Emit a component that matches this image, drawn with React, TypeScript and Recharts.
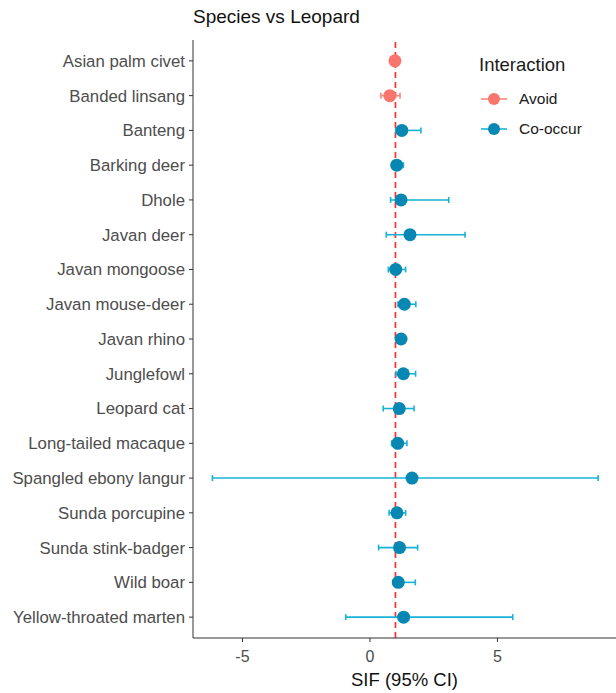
import React from 'react';
import { ScatterChart, Scatter, XAxis, YAxis, ErrorBar, ReferenceLine, Legend } from 'recharts';

const species = [
  'Asian palm civet',
  'Banded linsang',
  'Banteng',
  'Barking deer',
  'Dhole',
  'Javan deer',
  'Javan mongoose',
  'Javan mouse-deer',
  'Javan rhino',
  'Junglefowl',
  'Leopard cat',
  'Long-tailed macaque',
  'Spangled ebony langur',
  'Sunda porcupine',
  'Sunda stink-badger',
  'Wild boar',
  'Yellow-throated marten',
];
const sif = [0.98, 0.78, 1.25, 1.05, 1.22, 1.57, 1.01, 1.35, 1.22, 1.31, 1.15, 1.09, 1.65, 1.06, 1.16, 1.11, 1.32];
const lower = [0.92, 0.43, 1.02, 0.95, 0.81, 0.64, 0.72, 1.1, 1.1, 1.02, 0.52, 0.85, -6.18, 0.75, 0.34, 0.92, -0.95];
const upper = [1.04, 1.18, 2.0, 1.31, 3.09, 3.73, 1.4, 1.8, 1.32, 1.79, 1.73, 1.45, 8.95, 1.4, 1.87, 1.78, 5.6];
const interaction = [
  'Avoid', 'Avoid', 'Co-occur', 'Co-occur', 'Co-occur', 'Co-occur', 'Co-occur', 'Co-occur', 'Co-occur',
  'Co-occur', 'Co-occur', 'Co-occur', 'Co-occur', 'Co-occur', 'Co-occur', 'Co-occur', 'Co-occur',
];
const xTicks = [-5, 0, 5];
const groups = ['Avoid', 'Co-occur'];

const pointColor: Record<string, string> = { Avoid: '#F8766D', 'Co-occur': '#0787B2' };
const barColor: Record<string, string> = { Avoid: '#F8877F', 'Co-occur': '#17B3D6' };

const rows = species.map((name, i) => ({
  name,
  idx: i,
  sif: sif[i],
  err: [sif[i] - lower[i], upper[i] - sif[i]],
  interaction: interaction[i],
}));

const FONT = '"Liberation Sans", Arial, sans-serif';

const renderLegend = () => (
  <div style={{ fontFamily: FONT, color: '#1a1a1a', position: 'relative', width: 146, height: 100 }}>
    <div style={{ position: 'absolute', left: 9, top: 2, fontSize: 18.5, lineHeight: '22px' }}>Interaction</div>
    {groups.map((g, k) => (
      <div key={g} style={{ position: 'absolute', left: 10, top: 37 + k * 30, height: 20, display: 'flex', alignItems: 'center' }}>
        <svg width={28} height={20} style={{ display: 'block' }}>
          <line x1={1} y1={10} x2={27} y2={10} stroke={barColor[g]} strokeWidth={1.6} />
          <circle cx={14} cy={10} r={6} fill={pointColor[g]} />
        </svg>
        <span style={{ marginLeft: 11, fontSize: 15.5, color: '#1a1a1a' }}>{g}</span>
      </div>
    ))}
  </div>
);

const Dot = (color: string) => (props: any) => {
  const { cx, cy } = props;
  if (cx == null || cy == null) return null;
  return <circle cx={cx} cy={cy} r={6.5} fill={color} />;
};

export default function App() {
  return (
    <div style={{ position: 'absolute', left: 0, top: 0, width: 616, height: 693, background: '#fff', fontFamily: FONT }}>
      <div style={{ position: 'absolute', left: 193, top: 5, fontSize: 19, color: '#111', fontFamily: FONT, lineHeight: '24px' }}>
        Species vs Leopard
      </div>
      <ScatterChart width={616} height={693} margin={{ top: 40, right: 0, bottom: 0, left: 0 }}>
        <XAxis
          type="number"
          dataKey="sif"
          domain={[-6.94, 9.65]}
          ticks={xTicks}
          allowDataOverflow
          height={55}
          tickSize={4}
          tickMargin={9}
          stroke="#333"
          tick={{ fill: '#4D4D4D', fontSize: 16, fontFamily: FONT }}
          label={{ value: 'SIF (95% CI)', position: 'insideBottom', offset: 7, fill: '#111', fontSize: 18.5, fontFamily: FONT }}
        />
        <YAxis
          type="number"
          dataKey="idx"
          domain={[-0.6, 16.6]}
          reversed
          ticks={species.map((_, i) => i)}
          interval={0}
          tickFormatter={(v: number) => species[v]}
          width={193}
          tickSize={4}
          tickMargin={4}
          stroke="#333"
          tick={{ fill: '#4D4D4D', fontSize: 16.8, fontFamily: FONT }}
        />
        <ReferenceLine x={1} stroke="#FF3030" strokeWidth={1.7} strokeDasharray="6 4" />
        {groups.map((g) => (
          <Scatter
            key={g}
            name={g}
            data={rows.filter((r) => r.interaction === g)}
            fill={pointColor[g]}
            shape={Dot(pointColor[g])}
            isAnimationActive={false}
          >
            <ErrorBar dataKey="err" direction="x" width={3} stroke={barColor[g]} strokeWidth={1.6} isAnimationActive={false} />
          </Scatter>
        ))}
        <Legend
          layout="horizontal"
          verticalAlign="middle"
          align="center"
          content={renderLegend}
          wrapperStyle={{ position: 'absolute', left: 470, top: 52, width: 146, height: 100 }}
        />
      </ScatterChart>
    </div>
  );
}
